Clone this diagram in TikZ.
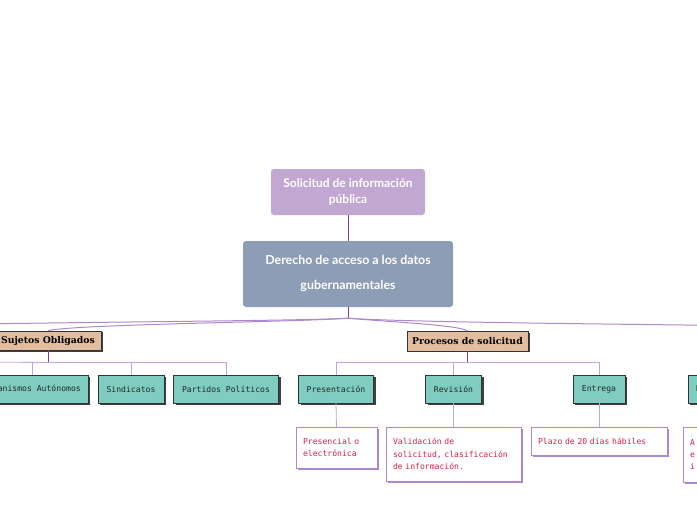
\documentclass[tikz,border=0pt]{standalone}
\usepackage{fontspec}
\setmainfont{Lato}
\newfontfamily\headfont{DejaVu Serif}
\newfontfamily\itemfont{DejaVu Sans Mono}
\usetikzlibrary{shadows}
\definecolor{lila}{RGB}{195,167,211}
\definecolor{pizarra}{RGB}{140,157,181}
\definecolor{canela}{RGB}{226,189,160}
\definecolor{turquesa}{RGB}{126,205,192}
\definecolor{rojo}{RGB}{214,32,72}
\definecolor{moradoA}{RGB}{125,60,160}
\definecolor{moradoB}{RGB}{195,165,220}
\definecolor{moradoC}{RGB}{175,135,205}
\begin{document}
\begin{tikzpicture}[x=1pt,y=-1pt,
  tema/.style={fill=lila,rounded corners=3pt,text=white,align=center,
    minimum width=154pt,minimum height=46pt,
    font={\bfseries\fontsize{12}{16}\selectfont}},
  central/.style={fill=pizarra,rounded corners=3pt,text=white,align=center,
    minimum width=210pt,minimum height=66pt,
    font={\bfseries\fontsize{12.4}{25}\selectfont}},
  cabecera/.style={draw=black!80,fill=canela,minimum height=19.5pt,inner sep=0pt,
    font={\headfont\bfseries\fontsize{9.3}{10}\selectfont},
    drop shadow={shadow xshift=1.5pt,shadow yshift=-1.5pt,fill=black!75,opacity=1}},
  rama/.style={draw=black!80,fill=turquesa,minimum height=28pt,inner sep=0pt,
    font={\itemfont\fontsize{8.1}{10}\selectfont},text=black!85,
    drop shadow={shadow xshift=2pt,shadow yshift=-2pt,fill=black!75,opacity=1}},
  nota/.style={draw=moradoC,fill=white,inner xsep=7pt,inner ysep=0pt,align=left,
    font={\itemfont\fontsize{8.1}{12.3}\selectfont},text=rojo,
    drop shadow={shadow xshift=2pt,shadow yshift=-2pt,fill=moradoC,opacity=1}},
  tronco/.style={draw=moradoA,line width=0.9pt},
  enlace/.style={draw=moradoC,line width=1pt},
  ramita/.style={draw=moradoB,line width=0.8pt}]
\clip (0,0) rectangle (697,520);

% nodos principales
\node[tema] (sol) at (348,192) {Solicitud de información\\pública};
\node[central] (der) at (348,274) {Derecho de acceso a los datos\\gubernamentales};
\draw[tronco] (sol.south) -- (der.north);

% cabeceras
\node[cabecera,minimum width=106pt] (suj) at (48,340.5) {Sujetos Obligados};
\node[cabecera,minimum width=121pt] (pro) at (467.5,341) {Procesos de solicitud};
\coordinate (izq) at (-70,325);
\coordinate (der2) at (770,326);
\draw[tronco] (der.south) -- ++(0,11) coordinate (nudo);
\draw[enlace] (nudo) .. controls (300,321) and (60,322) .. (izq);
\draw[enlace] (nudo) .. controls (300,322) and (80,324) .. (suj.north);
\draw[enlace] (nudo) .. controls (390,322) and (460,325) .. (pro.north);
\draw[enlace] (nudo) .. controls (400,322) and (600,324) .. (der2);

% sujetos obligados
\node[rama,minimum width=112pt] (org) at (32,389) {Organismos Autónomos};
\node[rama,minimum width=66pt] (sin) at (131,389) {Sindicatos};
\node[rama,minimum width=105pt] (par) at (226,389) {Partidos Políticos};
\draw[tronco] (suj.south) -- ++(0,12) coordinate (nudoS);
\coordinate (izq2) at (-60,362);
\draw[ramita] (izq2) -- (nudoS);
\draw[ramita] (org.north) |- (nudoS);
\draw[ramita] (sin.north) |- (nudoS);
\draw[ramita] (par.north) |- (nudoS);

% procesos de solicitud
\node[rama,minimum width=75pt] (pre) at (336,389) {Presentación};
\node[rama,minimum width=56pt] (rev) at (453.5,389) {Revisión};
\node[rama,minimum width=52pt] (ent) at (599,389) {Entrega};
\draw[tronco] (pro.south) -- ++(0,11) coordinate (nudoP);
\draw[ramita] (pre.north) |- (nudoP);
\draw[ramita] (rev.north) |- (nudoP);
\draw[ramita] (ent.north) |- (nudoP);

% notas
\node[nota,text width=67pt,minimum height=41pt] (npre) at (336.5,447.5)
  {Presencial o\\electrónica};
\node[nota,text width=121pt,minimum height=54pt] (nrev) at (453.5,454)
  {Validación de\\solicitud, clasificación\\de información.};
\node[nota,text width=122pt,minimum height=28pt] (nent) at (599,441)
  {Plazo de 20 días hábiles};
\draw[ramita] (pre.south) -- (npre.north);
\draw[ramita] (rev.south) -- (nrev.north);
\draw[ramita] (ent.south) -- (nent.north);

% rama cortada a la derecha
\node[rama,minimum width=70pt,text width=54pt,align=left] (otr) at (723,389) {D};
\node[nota,text width=86pt,minimum height=55pt] (notr) at (733,454.5) {A\\e\\i};
\draw[ramita] (otr.south) -- (notr.north);
\end{tikzpicture}
\end{document}
